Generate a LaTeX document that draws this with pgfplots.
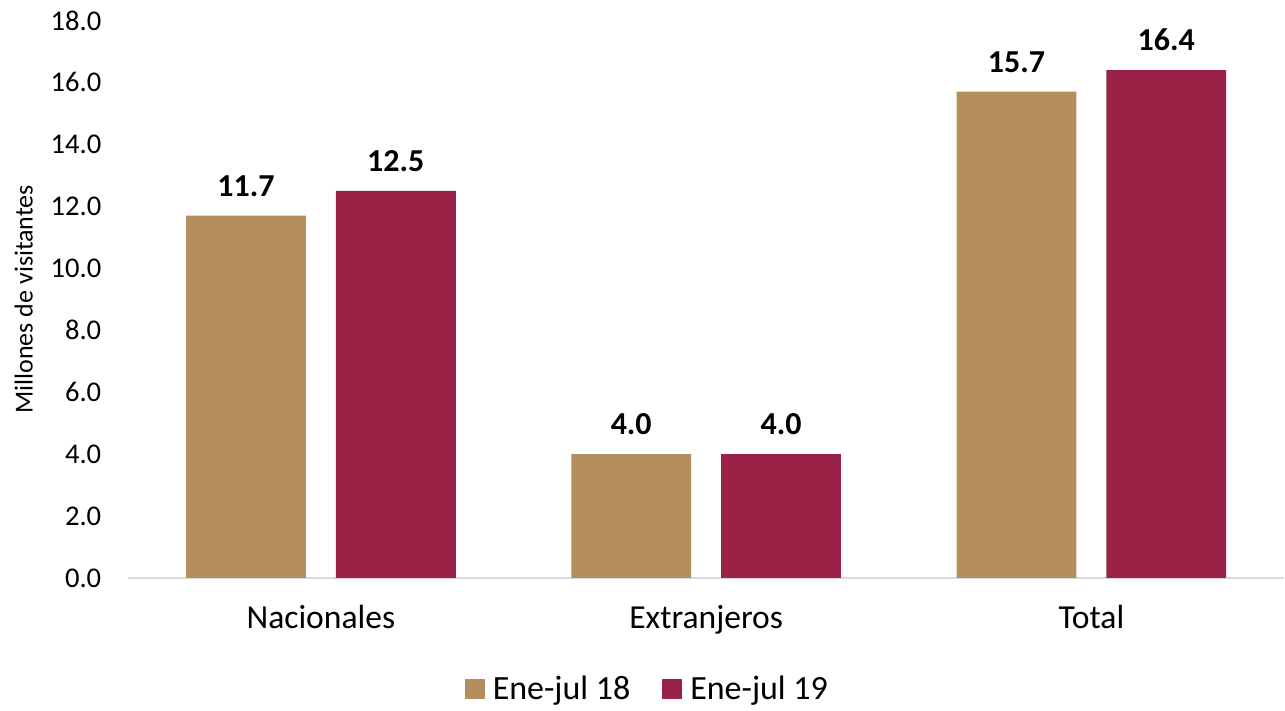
\documentclass[border=0pt]{standalone}
\usepackage{fontspec}
\setmainfont{Carlito}
\usepackage{pgfplots}
\pgfplotsset{compat=1.18}
\definecolor{tan}{HTML}{B48E5C}
\definecolor{vino}{HTML}{9B2247}
\begin{document}
\begin{tikzpicture}
\begin{axis}[
    ybar=15pt,
    bar width=60pt,
    width=578.5pt,
    height=279pt,
    scale only axis,
    xmin=-0.5, xmax=2.5,
    ymin=0, ymax=18,
    xtick=data,
    xticklabels={Nacionales, Extranjeros, Total},
    ytick distance=2,
    axis x line*=bottom,
    axis y line*=left,
    x axis line style={draw=black!15, line width=1pt, -},
    y axis line style={draw=none},
    major tick length=0pt,
    xtick style={draw=none},
    ytick style={draw=none},
    yticklabel style={/pgf/number format/fixed, /pgf/number format/fixed zerofill, /pgf/number format/precision=1, font=\fontsize{14.3pt}{16pt}\selectfont, xshift=-10pt},
    /pgf/number format/assume math mode=true,
    xticklabel style={font=\fontsize{16.8pt}{18pt}\selectfont, yshift=-10pt},
    ylabel={Millones de visitantes},
    ylabel style={font=\fontsize{13pt}{15pt}\selectfont, yshift=2pt},
    nodes near coords,
    nodes near coords style={font=\bfseries\fontsize{16pt}{18pt}\selectfont, /pgf/number format/fixed, /pgf/number format/fixed zerofill, /pgf/number format/precision=1, yshift=6pt},
    legend style={at={(0.45,-0.2)}, anchor=center, draw=none, legend columns=-1, font=\fontsize{17pt}{18pt}\selectfont, /tikz/every even column/.append style={column sep=14pt}},
    legend image code/.code={\fill[#1] (0pt,-5pt) rectangle (10pt,5pt);},
    legend style={/tikz/every odd column/.append style={column sep=2pt}},
]
\addplot[fill=tan, draw=none] coordinates {(0,11.7) (1,4.0) (2,15.7)};
\addplot[fill=vino, draw=none] coordinates {(0,12.5) (1,4.0) (2,16.4)};
\legend{Ene-jul 18, Ene-jul 19}
\end{axis}
\path ([xshift=-4pt]current bounding box.west);
\path ([yshift=2pt]current bounding box.north);
\end{tikzpicture}
\end{document}
